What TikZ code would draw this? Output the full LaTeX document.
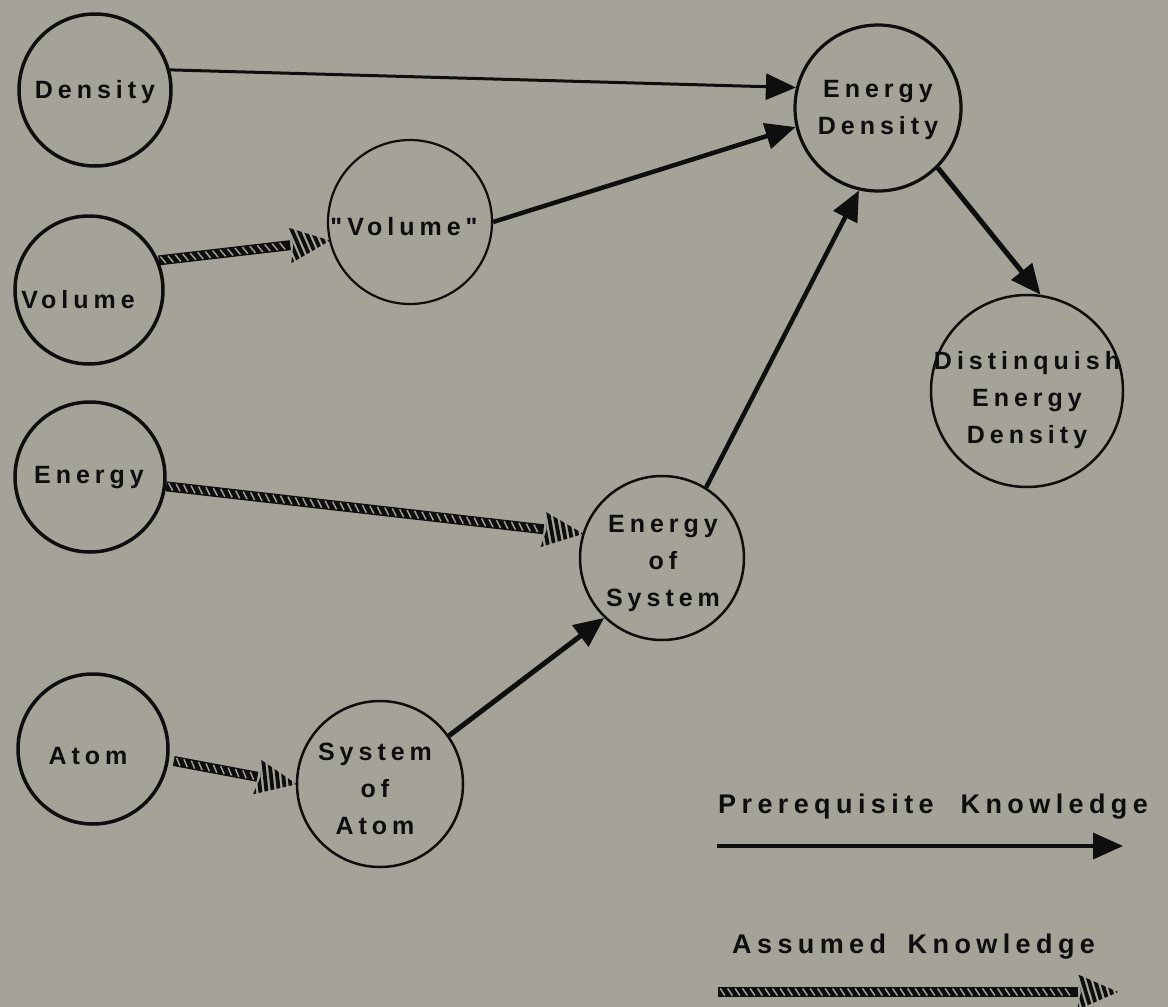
\documentclass[tikz,border=0pt]{standalone}
\usepackage{fontspec}
\usetikzlibrary{arrows.meta,decorations.markings}
\newfontfamily\lbl{Liberation Sans}[LetterSpace=20]
\definecolor{bg}{RGB}{165,162,152}
\definecolor{ink}{RGB}{14,14,14}

% hatched "assumed knowledge" arrow, drawn in the frame of the path end
\newcommand\assumedmark{%
  \pgfmathsetmacro\arrL{\pgfdecoratedpathlength}%
  \pgfmathsetmacro\arrH{40}%
  \pgfmathtruncatemacro\arrN{(\arrL-\arrH)/7.5}%
  \fill[ink] (-\arrL,-5) rectangle (-\arrH+1,5);
  \foreach \k in {1,...,\arrN}{%
    \pgfmathsetmacro\sx{-\arrL+\k*7.5-3}%
    \draw[bg,line width=1.4pt] (\sx-2.4,-3.6) -- (\sx+2.4,3.6);}
  \begin{scope}
    \clip (1,0) -- (-\arrH,18) -- (-\arrH+4,0) -- (-\arrH,-18) -- cycle;
    \foreach \k in {0,...,8}{%
      \pgfmathsetmacro\sx{-\arrH+\k*6.4-4}%
      \draw[ink,line width=3.8pt] (\sx-6,-20) -- (\sx+6,20);}
  \end{scope}}

\tikzset{
  concept/.style={circle,draw=ink,inner sep=0pt,minimum size=#1},
  txt/.style={font=\lbl\bfseries\fontsize{25}{37}\selectfont,align=center,text=ink,inner sep=0pt},
  legendtxt/.style={font=\lbl\bfseries\fontsize{27}{32}\selectfont,text=ink,inner sep=0pt},
  prereq/.style={draw=ink,-{Triangle[length=30pt,width=26pt]}},
  assumed/.style={postaction={decorate,decoration={markings,
      mark=at position 1 with {\assumedmark}}}},
}

\begin{document}
\begin{tikzpicture}[x=1pt,y=-1pt]
\useasboundingbox[fill=bg] (0,0) rectangle (1168,1007);

% concepts
\node[concept=152pt,line width=3.5pt] (den)  at (95,90)   {};
\node[concept=148pt,line width=3.5pt] (vol)  at (89,290)  {};
\node[concept=164pt,line width=2.2pt] (qvol) at (410,222) {};
\node[concept=166pt,line width=3.2pt] (ed)   at (878,108) {};
\node[concept=150pt,line width=3.5pt] (en)   at (90,477)  {};
\node[concept=164pt,line width=2.5pt] (eos)  at (662,558) {};
\node[concept=150pt,line width=3.5pt] (atom) at (93,749)  {};
\node[concept=166pt,line width=2.5pt] (soa)  at (380,784) {};
\node[concept=192pt,line width=2.5pt] (dist) at (1027,391) {};

% concept names
\node[txt] (den-t)  at (95,92)   {Density};
\node[txt] (vol-t)  at (78,300)  {Volume};
\node[txt] (qvol-t) at (404,227) {"Volume"};
\node[txt] (ed-t)   at (878,110) {Energy\\Density};
\node[txt] (en-t)   at (89,478)  {Energy};
\node[txt] (eos-t)  at (663,563) {Energy\\of\\System};
\node[txt] (atom-t) at (88,756)  {Atom};
\node[txt] (soa-t)  at (375,789) {System\\of\\Atom};
\node[txt] (dist-t) at (1027,400) {Distinquish\\Energy\\Density};

% prerequisite knowledge
\draw[prereq,line width=3pt]   (den.15)  -- (ed.166);
\draw[prereq,line width=4.5pt] (qvol.0)  -- (ed.193.5);
\draw[prereq,line width=4.5pt] (eos.58)  -- (ed.257);
\draw[prereq,line width=5pt]   (ed.-45)  -- (dist.82);
\draw[prereq,line width=5pt]   (soa.35)  -- (eos.-134);

% assumed knowledge
\path[assumed] (vol.23.5) -- (qvol.193.6);
\path[assumed] (en.-7.8)  -- (eos.163.3);
\path[assumed] ([xshift=5pt]atom.-9) -- (soa.180);

% legend
\node[legendtxt,anchor=base west] (lp) at (718,813) {Prerequisite\hspace{1em}Knowledge};
\coordinate (lp-a) at (717,846);
\coordinate (lp-b) at (1123,846);
\draw[prereq,line width=3.5pt] (lp-a) -- (lp-b);
\node[legendtxt,anchor=base west] (la) at (732,953) {Assumed\hspace{0.8em}Knowledge};
\coordinate (la-a) at (718,992);
\coordinate (la-b) at (1117,992);
\path[assumed] (la-a) -- (la-b);
\end{tikzpicture}
\end{document}
